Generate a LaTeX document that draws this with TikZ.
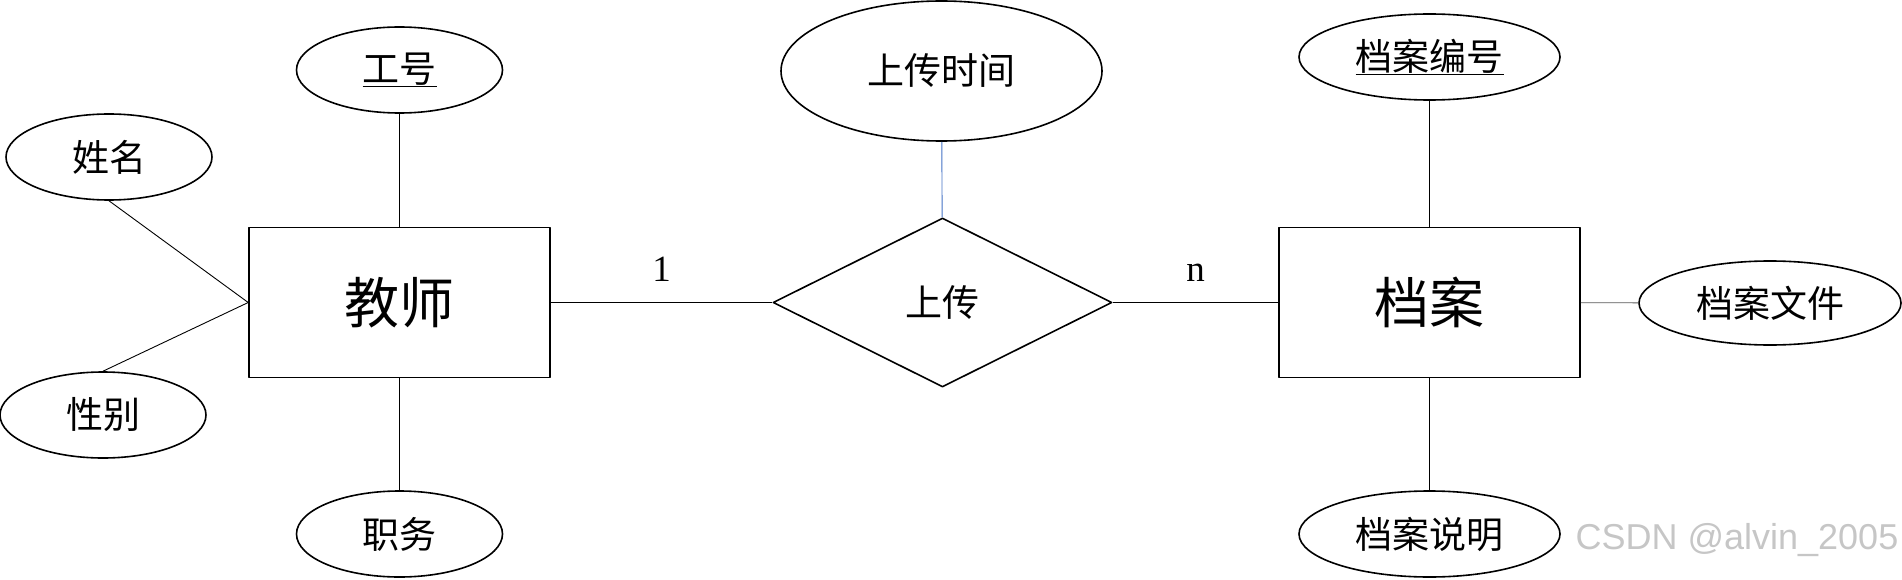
\documentclass[tikz,border=0pt]{standalone}
\usepackage{fontspec}
\setmainfont{Liberation Serif}
\newfontfamily\cjk{Noto Sans CJK SC}
\newfontfamily\markfont{Liberation Sans}
\usetikzlibrary{shapes.geometric}
\definecolor{linkblue}{RGB}{68,114,196}

\begin{document}
\begin{tikzpicture}[x=1pt,y=-1pt,line join=round,
	entity/.style={draw,line width=1.6pt,rectangle,minimum width=301pt,minimum height=150pt,inner sep=0pt,font=\cjk\fontsize{55}{60}\selectfont},
	attr/.style={draw,line width=1.6pt,ellipse,minimum width=206pt,minimum height=86pt,inner sep=0pt,font=\cjk\fontsize{37}{40}\selectfont},
	rel/.style={draw,line width=1.6pt,diamond,minimum width=339pt,minimum height=169pt,inner sep=0pt,font=\cjk\fontsize{37}{40}\selectfont},
	link/.style={line width=0.9pt},
	card/.style={font=\fontsize{37}{40}\selectfont,anchor=base,yshift=21pt}]
	\useasboundingbox (0,0) rectangle (1902,580);
	% entities and relation
	\node[entity] (teacher) at (399.5,302.5) {教师};
	\node[entity] (archive) at (1429.5,302.5) {档案};
	\node[rel] (upload) at (942.5,302.5) {上传};
	% attributes
	\node[attr] (gonghao) at (399.5,70) {\underline{工号}};
	\node[attr] (xingming) at (109,157) {姓名};
	\node[attr] (xingbie) at (103,415) {性别};
	\node[attr] (zhiwu) at (399.5,534) {职务};
	\node[attr,minimum width=321pt,minimum height=140pt] (uptime) at (941.5,71) {上传时间};
	\node[attr,minimum width=261pt] (dabh) at (1429.5,57) {\underline{档案编号}};
	\node[attr,minimum width=262pt,minimum height=84pt] (dawj) at (1770,303) {档案文件};
	\node[attr,minimum width=261pt] (dasm) at (1429.5,534) {档案说明};
	% connectors
	\draw[link] (gonghao) -- (teacher);
	\draw[link] (xingming.south) -- (teacher.west);
	\draw[link] (xingbie.north) -- (teacher.west);
	\draw[link] (teacher) -- (zhiwu);
	\draw[link] (teacher) -- (upload) node[midway,card] {1};
	\draw[link] (upload) -- (archive) node[midway,card] {n};
	\draw[link,linkblue] (uptime) -- (upload);
	\draw[link] (dabh) -- (archive);
	\draw[link,gray!70!black] (archive) -- (dawj);
	\draw[link] (archive) -- (dasm);
	% watermark
	\node[font=\markfont\fontsize{36}{40}\selectfont,text=gray!45] (mark) at (1737,540) {CSDN @alvin\_2005};
\end{tikzpicture}
\end{document}
